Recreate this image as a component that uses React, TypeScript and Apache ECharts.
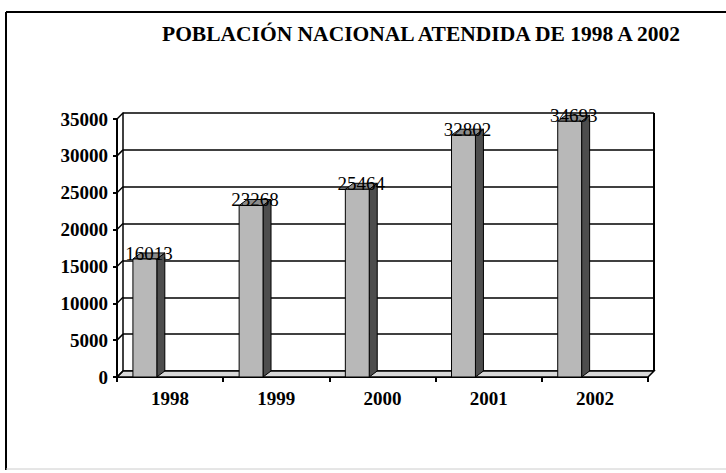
import React, { useEffect, useRef } from "react";
import * as echarts from "echarts";

const years = ["1998", "1999", "2000", "2001", "2002"];
const values = [16013, 23268, 25464, 32802, 34693];
const yMin = 0;
const yMax = 35000;
const yInterval = 5000;
const titleText = "POBLACIÓN NACIONAL ATENDIDA DE 1998 A 2002";

const FONT = '"Liberation Serif", "Times New Roman", serif';
const DX = 6;
const DY = -6;

export default function App() {
  const ref = useRef<HTMLDivElement>(null);
  useEffect(() => {
    if (!ref.current) return;
    const chart = echarts.init(ref.current, null, { renderer: "svg" });
    const ticks: number[] = [];
    for (let v = yMin; v <= yMax; v += yInterval) ticks.push(v);

    const option: any = {
      animation: false,
      backgroundColor: "#fff",
      title: {
        text: titleText,
        left: 157,
        top: 18,
        textStyle: { fontFamily: FONT, fontWeight: "bold", fontSize: 21.5, color: "#000" },
      },
      grid: [
        { left: 123, top: 113, right: 72, bottom: 102 },
        { left: 117, top: 119, right: 78, bottom: 96 },
      ],
      xAxis: [
        { gridIndex: 0, type: "category", data: years, show: false },
        {
          gridIndex: 1,
          type: "category",
          data: years,
          boundaryGap: true,
          axisLine: { show: true, lineStyle: { color: "#000", width: 2 } },
          axisTick: { show: true, length: 5, lineStyle: { color: "#000", width: 2 } },
          axisLabel: { color: "#000", fontFamily: FONT, fontWeight: "bold", fontSize: 19, margin: 12 },
          splitLine: { show: false },
        },
      ],
      yAxis: [
        {
          gridIndex: 0,
          type: "value",
          min: yMin,
          max: yMax,
          interval: yInterval,
          axisLine: { show: true, lineStyle: { color: "#000", width: 1.5 } },
          axisTick: { show: false },
          axisLabel: { show: false },
          splitLine: { show: true, lineStyle: { color: "#000", width: 1.5 } },
        },
        {
          gridIndex: 1,
          type: "value",
          min: yMin,
          max: yMax,
          interval: yInterval,
          axisLine: { show: true, lineStyle: { color: "#000", width: 2 } },
          axisTick: { show: true, length: 4, lineStyle: { color: "#000", width: 2 } },
          axisLabel: {
            color: "#000",
            fontFamily: FONT,
            fontWeight: "bold",
            fontSize: 19,
            margin: 9,
            formatter: (v: number) => String(v),
          },
          splitLine: { show: false },
        },
      ],
      graphic: [
        { type: "line", shape: { x1: 6, y1: 12, x2: 726, y2: 12 }, style: { stroke: "#000", lineWidth: 2 } },
        { type: "line", shape: { x1: 6, y1: 12, x2: 6, y2: 470 }, style: { stroke: "#000", lineWidth: 2 } },
        { type: "line", shape: { x1: 6, y1: 469, x2: 726, y2: 469 }, style: { stroke: "#ccc", lineWidth: 1 } },
      ],
      series: [
        {
          type: "custom",
          xAxisIndex: 1,
          yAxisIndex: 1,
          data: [[0, 0]],
          silent: true,
          renderItem: (params: any, api: any) => {
            const cs = params.coordSys;
            const x0 = cs.x;
            const x1 = cs.x + cs.width;
            const yb = cs.y + cs.height;
            const children: any[] = [];
            children.push({
              type: "polygon",
              shape: { points: [[x0, yb], [x1, yb], [x1 + DX, yb + DY], [x0 + DX, yb + DY]] },
              style: { fill: "#d9d9d9", stroke: "#000", lineWidth: 1.5 },
            });
            ticks.forEach((v) => {
              const p = api.coord([0, v]);
              children.push({
                type: "line",
                shape: { x1: x0, y1: p[1], x2: x0 + DX, y2: p[1] + DY },
                style: { stroke: "#000", lineWidth: 1.5 },
              });
            });
            const pt = api.coord([0, yMax]);
            children.push({
              type: "line",
              shape: { x1: x1 + DX, y1: pt[1] + DY, x2: x1 + DX, y2: yb + DY },
              style: { stroke: "#000", lineWidth: 2 },
            });
            return { type: "group", children };
          },
        },
        {
          type: "custom",
          xAxisIndex: 1,
          yAxisIndex: 1,
          data: values.map((v, i) => [i, v]),
          encode: { x: 0, y: 1 },
          silent: true,
          renderItem: (params: any, api: any) => {
            const i = api.value(0);
            const v = api.value(1);
            const top = api.coord([i, v]);
            const base = api.coord([i, 0]);
            const band = api.size([1, 0])[0];
            const w = band * 0.225;
            const bx = top[0] - band * 0.35;
            const dx = 8;
            const dy = -6;
            return {
              type: "group",
              children: [
                {
                  type: "polygon",
                  shape: { points: [[bx + w, base[1]], [bx + w + dx, base[1] + dy], [bx + w + dx, top[1] + dy], [bx + w, top[1]]] },
                  style: { fill: "#4d4d4d", stroke: "#000", lineWidth: 1 },
                },
                {
                  type: "polygon",
                  shape: { points: [[bx, top[1]], [bx + dx, top[1] + dy], [bx + w + dx, top[1] + dy], [bx + w, top[1]]] },
                  style: { fill: "#8c8c8c", stroke: "#000", lineWidth: 1 },
                },
                {
                  type: "rect",
                  shape: { x: bx, y: top[1], width: w, height: base[1] - top[1] },
                  style: { fill: "#b8b8b8", stroke: "#000", lineWidth: 1 },
                },
                {
                  type: "text",
                  x: bx + (w + dx) / 2,
                  y: top[1] + 4,
                  style: {
                    legacy: false,
                    text: String(v),
                    fill: "#000",
                    fontFamily: "Liberation Serif",
                    fontSize: 19,
                    fontWeight: "normal",
                    align: "center",
                    verticalAlign: "bottom",
                  },
                },
              ],
            };
          },
        },
      ],
    };
    chart.setOption(option);
    return () => chart.dispose();
  }, []);
  return (
    <div
      ref={ref}
      style={{ position: "fixed", left: 0, top: 0, width: 726, height: 473, background: "#fff" }}
    />
  );
}
